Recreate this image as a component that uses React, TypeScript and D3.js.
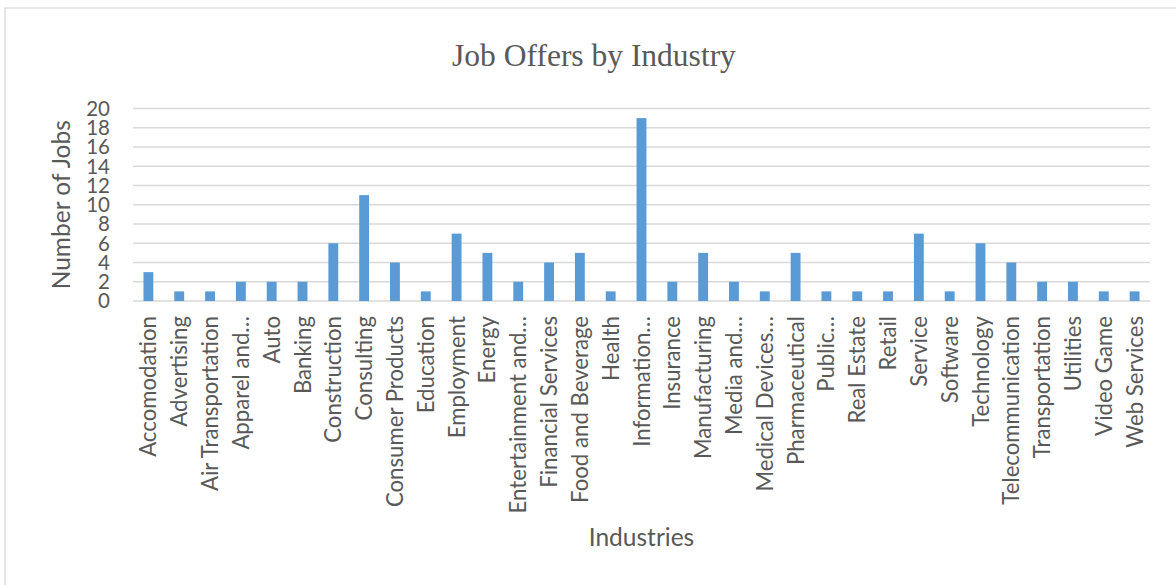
import React from "react";
import * as d3 from "d3";

const categories: string[] = [
  "Accomodation", "Advertising", "Air Transportation", "Apparel and…", "Auto", "Banking",
  "Construction", "Consulting", "Consumer Products", "Education", "Employment", "Energy",
  "Entertainment and…", "Financial Services", "Food and Beverage", "Health", "Information…",
  "Insurance", "Manufacturing", "Media and…", "Medical Devices…", "Pharmaceutical", "Public…",
  "Real Estate", "Retail", "Service", "Software", "Technology", "Telecommunication",
  "Transportation", "Utilities", "Video Game", "Web Services",
];
const jobs: number[] = [3, 1, 1, 2, 2, 2, 6, 11, 4, 1, 7, 5, 2, 4, 5, 1, 19, 2, 5, 2, 1, 5, 1, 1, 1, 7, 1, 6, 4, 2, 2, 1, 1];
const yTicks: number[] = [0, 2, 4, 6, 8, 10, 12, 14, 16, 18, 20];

const W = 1176, H = 585;
const left = 133, right = 1150, top = 108.5, bottom = 301;
const labelFont = "Lato, 'Noto Sans', sans-serif";
const grey = "#595959";

export default function App() {
  const x = d3.scaleBand<string>().domain(categories).range([left, right]).padding(0);
  const y = d3.scaleLinear().domain([0, 20]).range([bottom, top]);
  const bw = x.step() * 0.32;
  return (
    <svg width={W} height={H} style={{ position: "absolute", left: 0, top: 0 }}>
      <rect x={0} y={0} width={W} height={H} fill="#fff" />
      <rect x={5} y={8} width={W + 10} height={H + 10} fill="none" stroke="#d9d9d9" strokeWidth={1.3} />
      <text x={594} y={66} textAnchor="middle" fontFamily="'Liberation Serif', 'Times New Roman', serif" fontSize={31.5} fill={grey}>
        Job Offers by Industry
      </text>
      {yTicks.map((t) => (
        <g key={t}>
          <line x1={left} x2={right} y1={y(t)} y2={y(t)} stroke="#d9d9d9" strokeWidth={1.3} />
          <text x={110} y={y(t)} dy="0.36em" textAnchor="end" fontFamily={labelFont} fontSize={20.5} fill={grey}>
            {t}
          </text>
        </g>
      ))}
      {categories.map((c, i) => (
        <rect key={c} x={(x(c) as number) + x.bandwidth() / 2 - bw / 2} y={y(jobs[i])}
          width={bw} height={y(0) - y(jobs[i])} fill="#5b9bd5" />
      ))}
      {categories.map((c) => (
        <text key={c} transform={`translate(${(x(c) as number) + x.bandwidth() / 2},316) rotate(-90)`}
          dy="0.36em" textAnchor="end" fontFamily={labelFont} fontSize={22.2} fill={grey}>
          {c}
        </text>
      ))}
      <text transform={`translate(61,${(top + bottom) / 2}) rotate(-90)`} dy="0.36em" textAnchor="middle"
        fontFamily={labelFont} fontSize={24.5} fill={grey}>
        Number of Jobs
      </text>
      <text x={(left + right) / 2} y={537} dy="0.36em" textAnchor="middle" fontFamily={labelFont} fontSize={24.5} fill={grey}>
        Industries
      </text>
    </svg>
  );
}
